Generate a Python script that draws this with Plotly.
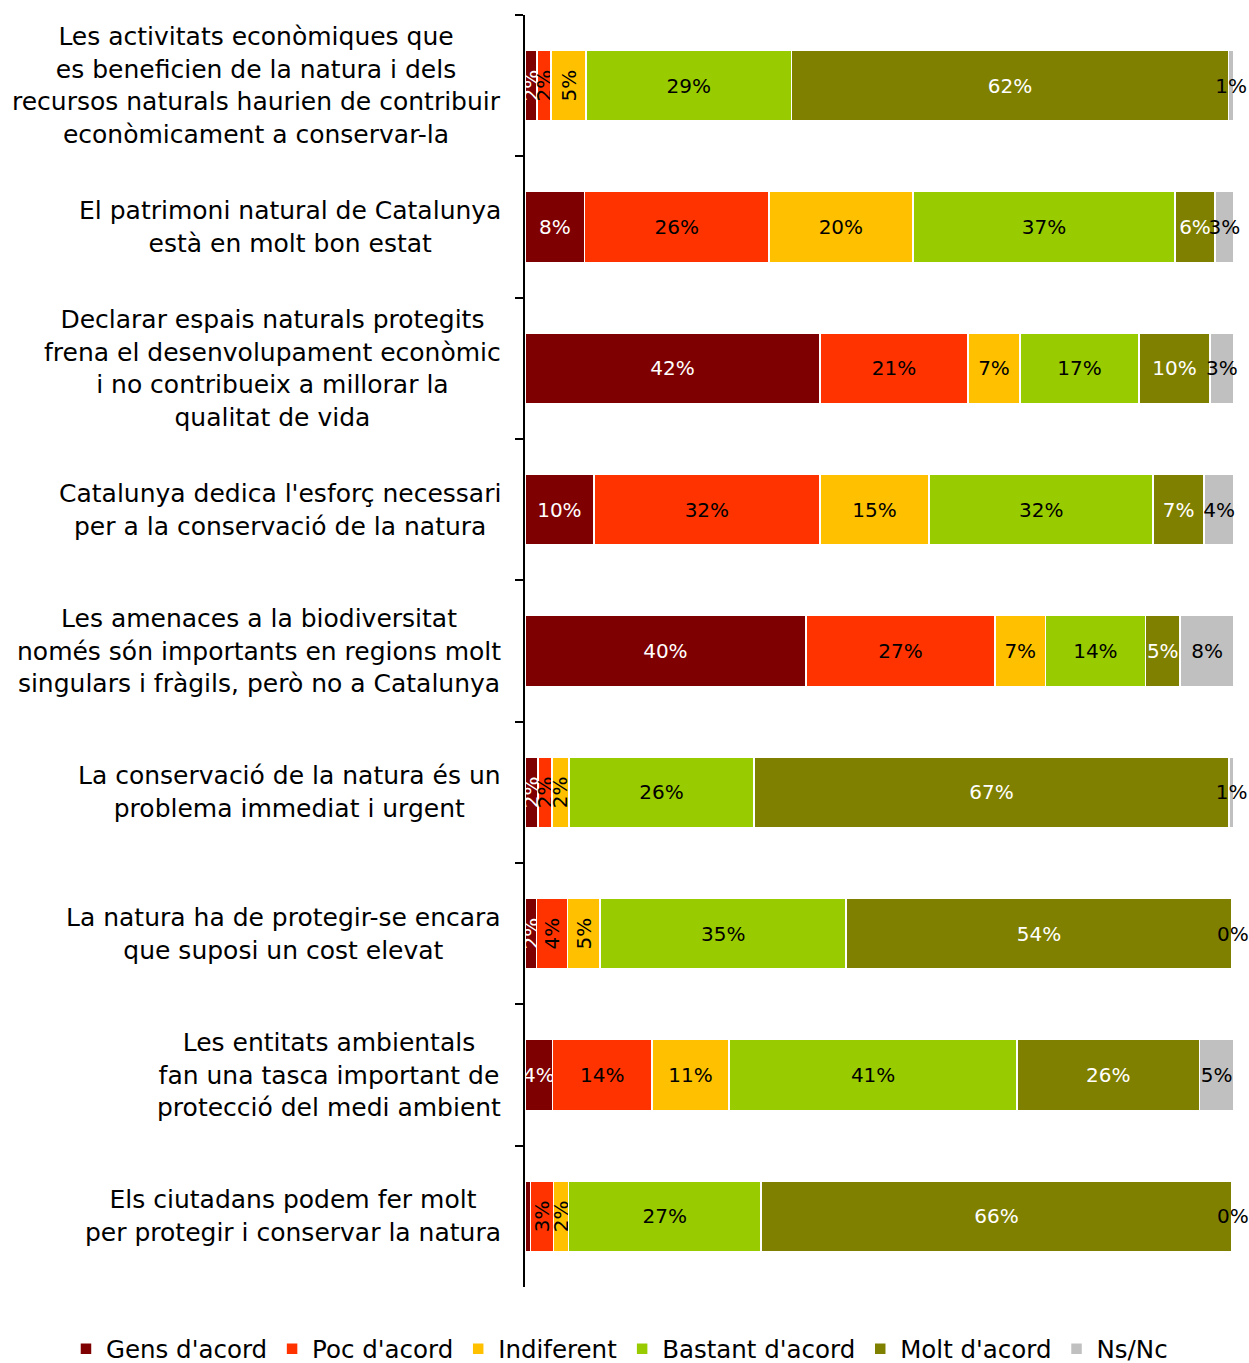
import plotly.graph_objects as go

categories = [
    "Les activitats econòmiques que<br>es beneficien de la natura i dels<br>recursos naturals haurien de contribuir<br>econòmicament a conservar-la",
    "El patrimoni natural de Catalunya<br>està en molt bon estat",
    "Declarar espais naturals protegits<br>frena el desenvolupament econòmic<br>i no contribueix a millorar la<br>qualitat de vida",
    "Catalunya dedica l'esforç necessari<br>per a la conservació de la natura",
    "Les amenaces a la biodiversitat<br>només són importants en regions molt<br>singulars i fràgils, però no a Catalunya",
    "La conservació de la natura és un<br>problema immediat i urgent",
    "La natura ha de protegir-se encara<br>que suposi un cost elevat",
    "Les entitats ambientals<br>fan una tasca important de<br>protecció del medi ambient",
    "Els ciutadans podem fer molt<br>per protegir i conservar la natura",
]

gens = [1.7, 8.4, 41.6, 9.7, 39.6, 1.8, 1.6, 3.9, 0.8]
poc = [2.0, 26.0, 20.9, 31.9, 26.7, 2.0, 4.4, 14.0, 3.2]
indif = [4.9, 20.3, 7.3, 15.4, 7.1, 2.4, 4.6, 10.9, 2.1]
bastant = [29.0, 37.0, 16.8, 31.6, 14.1, 26.1, 34.7, 40.6, 27.2]
molt = [61.6, 5.6, 10.0, 7.2, 4.9, 67.0, 54.4, 25.7, 66.4]
nsnc = [0.8, 2.7, 3.4, 4.2, 7.6, 0.7, 0.3, 4.9, 0.3]

series = [
    ("Gens d'acord", gens, "#7F0000", "white"),
    ("Poc d'acord", poc, "#FF3300", "black"),
    ("Indiferent", indif, "#FFC000", "black"),
    ("Bastant d'acord", bastant, "#99CC00", "black"),
    ("Molt d'acord", molt, "#808000", "white"),
    ("Ns/Nc", nsnc, "#C0C0C0", "black"),
]

# style: which (series, row index) labels are drawn vertically
ROTATED = {
    "Gens d'acord": {0, 5, 6},
    "Poc d'acord": {0, 5, 6, 8},
    "Indiferent": {0, 5, 6, 8},
}

FONT = "DejaVu Sans"
LABEL_SIZE = 20


def label(name, v):
    if v < 1 and name != "Ns/Nc":
        return ""
    return f"{round(v)}%"


fig = go.Figure()
for name, vals, color, tcolor in series:
    rot = ROTATED.get(name, set())
    parts = [(0, [i not in rot for i in range(len(vals))], True)]
    if rot:
        parts.append((-90, [i in rot for i in range(len(vals))], False))
    for angle, mask, show in parts:
        xs = [v if m else 0 for v, m in zip(vals, mask)]
        txt = [label(name, v) if m else "" for v, m in zip(vals, mask)]
        fig.add_trace(go.Bar(
            y=categories, x=xs, name=name, orientation="h",
            legendgroup=name, showlegend=show,
            marker=dict(color=color, line=dict(color="white", width=1.5)),
            text=txt, textposition="inside", insidetextanchor="middle",
            textangle=angle,
            insidetextfont=dict(color=tcolor, size=LABEL_SIZE, family=FONT),
            constraintext="none",
        ))

for c in categories:
    fig.add_annotation(
        x=0, xref="paper", y=c, yref="y", text=c, showarrow=False,
        xanchor="right", yanchor="middle", align="center", xshift=-22,
        font=dict(family=FONT, size=25, color="black"),
    )

fig.update_layout(
    barmode="stack", bargap=0.5,
    width=1249, height=1363,
    margin=dict(l=525, r=0, t=15, b=76, autoexpand=False),
    plot_bgcolor="white", paper_bgcolor="white",
    font=dict(family=FONT, size=20, color="black"),
    uniformtext=dict(minsize=LABEL_SIZE, mode="show"),
    showlegend=True,
    legend=dict(orientation="h", x=-0.634, xanchor="left",
                y=-0.0487, yanchor="middle",
                font=dict(family=FONT, size=24.5), traceorder="normal",
                itemclick=False),
    xaxis=dict(range=[0, 102.116], visible=False, fixedrange=True),
    yaxis=dict(autorange="reversed", showticklabels=False, ticks="outside",
               tickson="boundaries", ticklen=8, tickwidth=2, tickcolor="black",
               showline=True, linecolor="black", linewidth=2, showgrid=False),
)

fig.write_html(
    "out.html",
    config={"displayModeBar": False},
    post_script="document.body.style.margin='0';document.body.style.overflow='hidden';",
)
